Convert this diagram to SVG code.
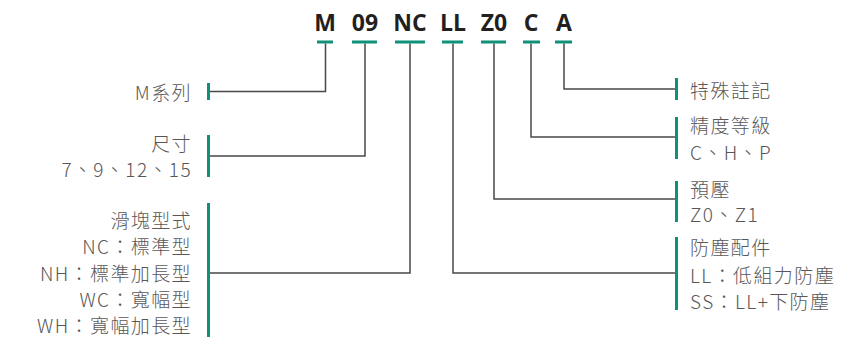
<svg xmlns="http://www.w3.org/2000/svg" width="855" height="340" viewBox="0 0 855 340">
<style>
.code{font-family:"Open Sans","Noto Sans",sans-serif;font-weight:700;font-size:23px;fill:#231f20;text-anchor:middle}
.lbl{font-family:"Noto Sans CJK TC",sans-serif;font-weight:300;font-size:19px;fill:#595757;letter-spacing:1.4px}
.l{text-anchor:end}
.bar{fill:#0e9079}
.ln{fill:none;stroke:#4a4747;stroke-width:1.5}
</style>
<rect width="855" height="340" fill="#fff"/>
<g id="codes">
<text class="code" x="325" y="31">M</text>
<text class="code" x="365" y="31">09</text>
<text class="code" x="410" y="31">NC</text>
<text class="code" x="453" y="31">LL</text>
<text class="code" x="494" y="31">Z0</text>
<text class="code" x="531" y="31">C</text>
<text class="code" x="564" y="31">A</text>
<rect class="bar" x="317" y="40.5" width="16" height="3"/>
<rect class="bar" x="352" y="40.5" width="25" height="3"/>
<rect class="bar" x="395" y="40.5" width="30" height="3"/>
<rect class="bar" x="442" y="40.5" width="21" height="3"/>
<rect class="bar" x="481" y="40.5" width="25" height="3"/>
<rect class="bar" x="523" y="40.5" width="17" height="3"/>
<rect class="bar" x="555" y="40.5" width="17" height="3"/>
</g>
<g id="connectors">
<path class="ln" d="M325.5 43.5V91.5H209"/>
<path class="ln" d="M365 43.5V156H209"/>
<path class="ln" d="M410 43.5V273H209"/>
<path class="ln" d="M453 43.5V273H677"/>
<path class="ln" d="M494 43.5V199H677"/>
<path class="ln" d="M531 43.5V137H677"/>
<path class="ln" d="M564 43.5V89H677"/>
</g>
<g id="series">
<rect class="bar" x="207" y="83" width="3" height="17"/>
<text class="lbl l" x="192" y="100">M系列</text>
</g>
<g id="size">
<rect class="bar" x="207" y="135" width="3" height="42"/>
<text class="lbl l" x="192" y="151">尺寸</text>
<text class="lbl l" x="192" y="177">7、9、12、15</text>
</g>
<g id="block">
<rect class="bar" x="207" y="203" width="3" height="134"/>
<text class="lbl l" x="192" y="228">滑塊型式</text>
<text class="lbl l" x="192" y="254">NC：標準型</text>
<text class="lbl l" x="192" y="281">NH：標準加長型</text>
<text class="lbl l" x="192" y="307">WC：寬幅型</text>
<text class="lbl l" x="192" y="333">WH：寬幅加長型</text>
</g>
<g id="special">
<rect class="bar" x="675" y="78" width="3" height="22"/>
<text class="lbl" x="690" y="98">特殊註記</text>
</g>
<g id="accuracy">
<rect class="bar" x="675" y="117" width="3" height="42"/>
<text class="lbl" x="690" y="133">精度等級</text>
<text class="lbl" x="690" y="160">C、H、P</text>
</g>
<g id="preload">
<rect class="bar" x="675" y="181" width="3" height="41"/>
<text class="lbl" x="690" y="197">預壓</text>
<text class="lbl" x="690" y="222">Z0、Z1</text>
</g>
<g id="dust">
<rect class="bar" x="675" y="237" width="3" height="73"/>
<text class="lbl" x="690" y="255">防塵配件</text>
<text class="lbl" x="690" y="283">LL：低組力防塵</text>
<text class="lbl" x="690" y="309">SS：LL+下防塵</text>
</g>
</svg>
